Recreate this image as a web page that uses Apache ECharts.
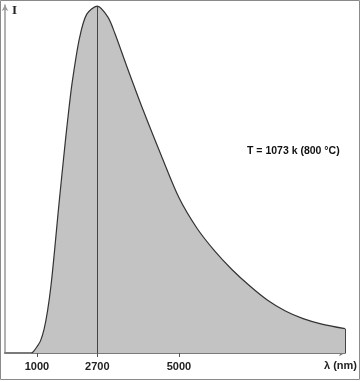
<!DOCTYPE html>
<html>
<head>
<meta charset="utf-8">
<script src="https://cdn.jsdelivr.net/npm/echarts@6/dist/echarts.min.js"></script>
<style>
html,body{margin:0;padding:0;background:#fff;}
#c{width:362px;height:382px;}
</style>
</head>
<body>
<div id="c"></div>
<script>
const wavelengths = [850, 900, 1000, 1100, 1200, 1300, 1400, 1500, 1600, 1700, 1800, 1900, 2000, 2200, 2400, 2700, 3000, 3200, 3500, 4000, 4500, 5000, 5500, 6000, 6500, 7000, 7500, 8000, 8500, 9000, 9680];
const intensity = [0, 0.4, 1.8, 3.5, 6.8, 12.2, 19.8, 29.9, 40.8, 51.0, 61.0, 70.3, 78.5, 90.8, 97.6, 100, 96.8, 92.0, 83.5, 69.8, 57.0, 44.8, 36.1, 29.5, 24.0, 19.3, 15.2, 12.1, 9.9, 8.4, 7.0];
const tickLabels = [1000, 2700, 5000];
const peakWavelength = 2700;
const xAxisName = 'λ (nm)';
const yAxisName = 'I';
const annotation = 'T = 1073 k (800 °C)';

const chart = echarts.init(document.getElementById('c'), null, {renderer: 'canvas'});
const points = wavelengths.map((w, i) => [w, intensity[i]]);
const lastW = wavelengths[wavelengths.length - 1];
const lastI = intensity[intensity.length - 1];

chart.setOption({
  animation: false,
  grid: {left: 5, right: 17, top: 5, bottom: 29, containLabel: false, outerBoundsMode: 'none'},
  xAxis: {
    type: 'value', min: 100, max: 9680,
    axisLine: {show: true, lineStyle: {color: '#7a7a7a', width: 2}, symbol: ['none', 'arrow'], symbolSize: [5, 6]},
    axisTick: {show: true, customValues: tickLabels, length: 4, lineStyle: {color: '#555'}},
    axisLabel: {show: true, customValues: tickLabels, formatter: v => String(v), margin: 8, fontFamily: 'Liberation Sans', fontWeight: 'bold', fontSize: 11, color: '#222'},
    splitLine: {show: false}
  },
  yAxis: {
    type: 'value', min: 0, max: 100.3,
    axisLine: {show: true, lineStyle: {color: '#999', width: 1.5}, symbol: ['none', 'arrow'], symbolSize: [5, 6]},
    axisTick: {show: false},
    axisLabel: {show: false},
    splitLine: {show: false}
  },
  series: [
    {
      type: 'line',
      data: points,
      smooth: 0.3,
      showSymbol: false,
      clip: false,
      lineStyle: {color: '#333', width: 1.2},
      areaStyle: {color: '#c3c3c3', opacity: 1},
      markLine: {
        silent: true, symbol: 'none', label: {show: false},
        lineStyle: {color: '#444', width: 1, type: 'solid'},
        data: [
          [{coord: [peakWavelength, 0]}, {coord: [peakWavelength, 100]}],
          [{coord: [lastW, 0]}, {coord: [lastW, lastI]}]
        ]
      }
    }
  ],
  graphic: [
    {type: 'rect', shape: {x: 0.5, y: 0.5, width: 359, height: 379}, style: {fill: 'none', stroke: '#8a8a8a', lineWidth: 1}, z: 100},
    {type: 'text', left: 12, top: 4, style: {text: yAxisName, font: 'bold 13px "Liberation Serif"', fill: '#222'}},
    {type: 'text', left: 324, top: 360, style: {text: xAxisName, font: 'bold 11px "Liberation Sans"', fill: '#222'}},
    {type: 'text', left: 247, top: 146, style: {text: annotation, font: 'bold 10.5px "Liberation Sans"', fill: '#111'}}
  ]
});
</script>
</body>
</html>
